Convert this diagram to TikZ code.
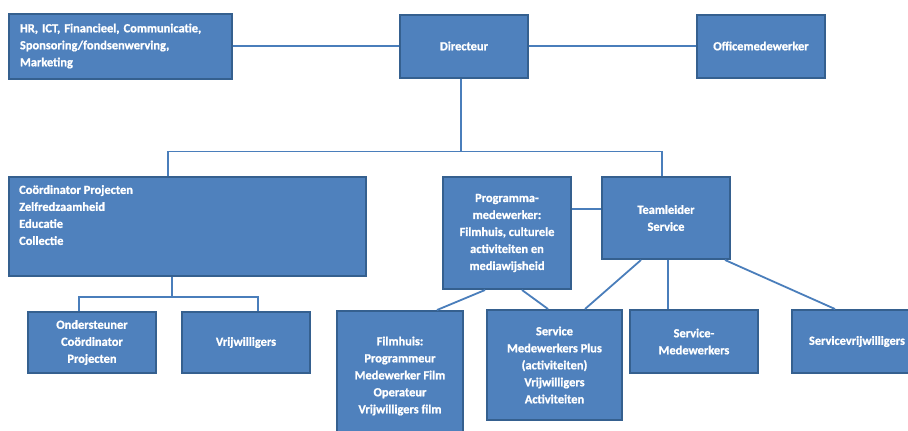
\documentclass[tikz,border=0pt]{standalone}
\usepackage{fontspec}
\setmainfont{Carlito}[BoldFont={Carlito Bold}, BoldFeatures={FakeBold=1}]
\usetikzlibrary{positioning}
\definecolor{boxblue}{HTML}{4F81BD}
\definecolor{boxedge}{HTML}{35608F}
\definecolor{linkblue}{HTML}{4A7EBB}
\tikzstyle{box} = [draw=boxedge, line width=2pt, fill=boxblue, text=white,
  font=\fontsize{12.4}{17}\selectfont\bfseries, align=center, inner sep=0pt]
\tikzstyle{txt} = [text=white, font=\fontsize{12.4}{17}\selectfont\bfseries, align=left, inner sep=0pt]
\tikzstyle{link} = [draw=linkblue, line width=1.8pt]

\begin{document}
\begin{tikzpicture}[x=1pt,y=-1pt]
    \clip (0,0) rectangle (908,431);
    \fill[white] (0,0) rectangle (908,431);

    % Draw the top row
    \node[box, minimum width=223pt, minimum height=65pt, text width=201pt, inner xsep=11pt, align=left]
        (support) at (120.5,46) {HR, ICT, Financieel, Communicatie,\\Sponsoring/fondsenwerving,\\Marketing};
    \node[box, minimum width=128pt, minimum height=63pt] (director) at (464,46) {Directeur};
    \node[box, minimum width=128pt, minimum height=63pt] (office) at (761,46) {Officemedewerker};

    % Draw the middle row
    \node[box, minimum width=357pt, minimum height=99pt] (projects) at (187.5,226.5) {};
    \node[txt, anchor=north west] at ([xshift=11pt,yshift=-9pt]projects.north west)
        {Coördinator Projecten\\Zelfredzaamheid\\Educatie\\Collectie};
    \node[box, minimum width=128pt, minimum height=112pt] (program) at (507,233)
        {Programma-\\medewerker:\\Filmhuis, culturele\\activiteiten en\\mediawijsheid};
    \node[box, minimum width=128pt, minimum height=82pt] (teamlead) at (666,218) {Teamleider\\Service};

    % Draw the bottom row
    \node[box, minimum width=128pt, minimum height=61pt] (assist) at (92,342.5) {Ondersteuner\\Coördinator\\Projecten};
    \node[box, minimum width=128pt, minimum height=61pt] (volunteers) at (246,342.5) {Vrijwilligers};
    \node[box, minimum width=126pt, minimum height=130pt] (filmhouse) at (400,376)
        {Filmhuis:\\Programmeur\\Medewerker Film\\Operateur\\Vrijwilligers film};
    \node[box, minimum width=135pt, minimum height=110pt] (serviceplus) at (554.5,365)
        {Service\\Medewerkers Plus\\(activiteiten)\\Vrijwilligers\\Activiteiten};
    \node[box, minimum width=128pt, minimum height=63pt] (servicestaff) at (694,341.5) {Service-\\Medewerkers};
    \node[box, minimum width=130pt, minimum height=63pt] (servicevol) at (857,341.5) {Servicevrijwilligers};

    % Draw the connectors
    \draw[link] (support.east) -- (director.west);
    \draw[link] (director.east) -- (office.west);
    \draw[link] ([xshift=-3pt]director.south) -- ++(0,73) coordinate (split);
    \draw[link] ([xshift=-19.5pt]projects.north) |- (split) -| ([xshift=-4pt]teamlead.north);
    \draw[link] ([yshift=9pt]teamlead.west) -- ([yshift=9pt]teamlead.west -| program.east);

    \draw[link] ([xshift=-15.5pt]projects.south) -- ++(0,20) coordinate (fork);
    \draw[link] ([xshift=-13pt]assist.north) |- (fork) -| ([xshift=12pt]volunteers.north);

    \draw[link] ([xshift=-22pt]program.south) -- ([xshift=37pt]filmhouse.north);
    \draw[link] ([xshift=15pt]program.south) -- ([xshift=-6.5pt]serviceplus.north);
    \draw[link] ([xshift=-25pt]teamlead.south) -- ([xshift=30.5pt]serviceplus.north);
    \draw[link] ([xshift=2pt]teamlead.south) -- ([xshift=-26pt]servicestaff.north);
    \draw[link] ([xshift=59pt]teamlead.south) -- ([xshift=-22pt]servicevol.north);
\end{tikzpicture}
\end{document}
